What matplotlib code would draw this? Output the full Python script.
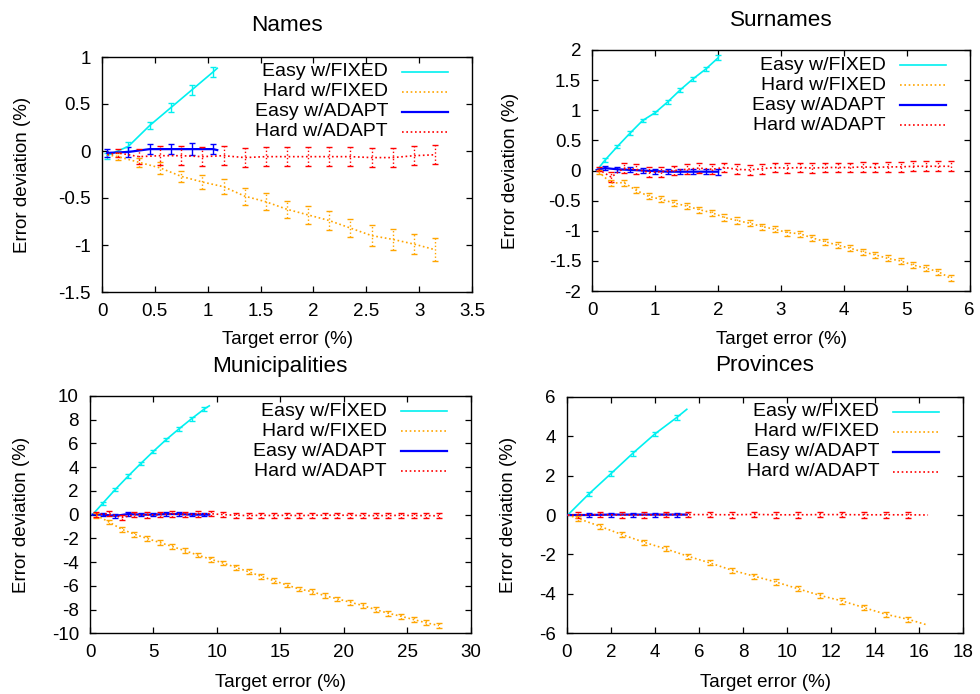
import numpy as np
import matplotlib
matplotlib.use("Agg")
import matplotlib.pyplot as plt
from matplotlib.ticker import FormatStrFormatter, MultipleLocator

plt.rcParams['font.family'] = ['Liberation Sans', 'DejaVu Sans']
plt.rcParams['font.size'] = 13.5

nan = np.nan

# ---- Names ----
names_easy_x = [0.05, 0.25, 0.45, 0.65, 0.85, 1.05, 1.09]
names_easy_fixed = [-0.05, 0.05, 0.27, 0.46, 0.65, 0.84, 0.88]
names_easy_fixed_err = [0.03, 0.05, 0.04, 0.05, 0.05, 0.05, nan]
names_easy_adapt = [-0.02, -0.01, 0.02, 0.02, 0.02, 0.02, 0.01]
names_easy_adapt_err = [0.04, 0.05, 0.05, 0.05, 0.06, 0.05, nan]
names_hard_x = [0.05, 0.15, 0.35, 0.55, 0.75, 0.95, 1.15, 1.35, 1.55, 1.75,
                1.95, 2.15, 2.35, 2.55, 2.75, 2.95, 3.15]
names_hard_fixed = [-0.04, -0.06, -0.12, -0.18, -0.27, -0.33, -0.38, -0.48, -0.54,
                    -0.62, -0.68, -0.74, -0.82, -0.90, -0.94, -0.99, -1.05]
names_hard_fixed_err = [nan, 0.04, 0.05, 0.06, 0.06, 0.07, 0.08, 0.09, 0.09, 0.09,
                        0.10, 0.10, 0.10, 0.11, 0.11, 0.11, 0.12]
names_hard_adapt = [-0.04, -0.02, -0.06, -0.05, -0.05, -0.06, -0.05, -0.07, -0.06,
                    -0.06, -0.06, -0.06, -0.06, -0.07, -0.07, -0.05, -0.04]
names_hard_adapt_err = [nan, 0.045, 0.08, 0.1, 0.1, 0.1, 0.1, 0.1, 0.1, 0.1,
                        0.1, 0.1, 0.1, 0.1, 0.1, 0.1, 0.1]

# ---- Surnames ----
sur_easy_x = [0.07, 0.2, 0.4, 0.6, 0.8, 1.0, 1.2, 1.4, 1.6, 1.8, 2.0]
sur_easy_fixed = [0.0, 0.17, 0.40, 0.62, 0.83, 0.96, 1.14, 1.34, 1.52, 1.68, 1.87]
sur_easy_fixed_err = [nan, 0.03, 0.03, 0.03, 0.03, 0.03, 0.03, 0.03, 0.03, 0.03, 0.04]
sur_easy_adapt = [0.01, 0.04, 0.02, 0.01, 0.0, -0.01, -0.02, -0.02, -0.02, -0.02, -0.02]
sur_easy_adapt_err = [nan, 0.03, 0.04, 0.04, 0.04, 0.04, 0.04, 0.04, 0.04, 0.04, 0.05]
sur_hard_x = [0.1, 0.3, 0.5, 0.7, 0.9, 1.1, 1.3, 1.5, 1.7, 1.9, 2.1, 2.3, 2.5, 2.7,
              2.9, 3.1, 3.3, 3.5, 3.7, 3.9, 4.1, 4.3, 4.5, 4.7, 4.9, 5.1, 5.3, 5.5, 5.7]
sur_hard_fixed = [-0.02, -0.21, -0.20, -0.33, -0.43, -0.48, -0.54, -0.59, -0.65, -0.70,
                  -0.78, -0.83, -0.875, -0.93, -0.975, -1.03, -1.05, -1.12, -1.18,
                  -1.24, -1.29, -1.35, -1.40, -1.46, -1.50, -1.57, -1.62, -1.68, -1.79]
sur_hard_fixed_err = [0.03] + [0.05] * 28
sur_hard_adapt = [0.02, -0.11, 0.04, 0.02, -0.03, -0.02, 0.0, 0.02, 0.04, 0.02,
                  0.05, 0.02, 0.01, 0.03, 0.05, 0.04, 0.05, 0.04, 0.05, 0.05,
                  0.05, 0.06, 0.05, 0.06, 0.06, 0.07, 0.07, 0.07, 0.07]
sur_hard_adapt_err = [0.03] + [0.08] * 28

# ---- Municipalities ----
mun_easy_x = [0.2, 1, 2, 3, 4, 5, 6, 7, 8, 9, 9.4]
mun_easy_fixed = [0.0, 0.95, 2.13, 3.24, 4.31, 5.34, 6.32, 7.22, 8.08, 8.90, 9.17]
mun_easy_fixed_err = [nan] + [0.15] * 9 + [nan]
mun_easy_adapt = [0.0, 0.0, -0.1, 0.05, 0.0, 0.0, 0.05, 0.05, 0.0, 0.0, 0.0]
mun_easy_adapt_err = [nan] + [0.15] * 9 + [nan]
mun_hard_x = [0.5, 1.5, 2.5, 3.5, 4.5, 5.5, 6.5, 7.5, 8.5, 9.5, 10.5, 11.5, 12.5, 13.5,
              14.5, 15.5, 16.5, 17.5, 18.5, 19.5, 20.5, 21.5, 22.5, 23.5, 24.5, 25.5,
              26.5, 27.5]
mun_hard_fixed = [-0.06, -0.62, -1.23, -1.65, -2.01, -2.35, -2.69, -3.05, -3.41, -3.75,
                  -4.08, -4.45, -4.81, -5.20, -5.57, -5.93, -6.27, -6.49, -6.83, -7.10,
                  -7.38, -7.66, -8.00, -8.31, -8.56, -8.84, -9.12, -9.34]
mun_hard_fixed_err = [0.2] * 28
mun_hard_adapt = [0.0, 0.08, -0.25, 0.0, -0.03, 0.0, 0.06, 0.0, 0.06, 0.08, 0.0, -0.05,
                  -0.08, -0.05, -0.08, -0.05, -0.08, -0.05, -0.05, -0.05, -0.05, -0.08,
                  -0.08, -0.08, -0.05, -0.08, -0.08, -0.1]
mun_hard_adapt_err = [0.22] * 28

# ---- Provinces ----
prov_easy_x = [0.05, 1, 2, 3, 4, 5, 5.45]
prov_easy_fixed = [0.0, 1.06, 2.09, 3.13, 4.11, 4.95, 5.36]
prov_easy_fixed_err = [nan, 0.12, 0.12, 0.12, 0.12, 0.12, nan]
prov_easy_adapt = [0.0, 0.0, 0.02, 0.02, 0.02, 0.02, 0.02]
prov_easy_adapt_err = [nan, 0.1, 0.1, 0.1, 0.1, 0.1, nan]
prov_hard_x = [0.05, 0.5, 1.5, 2.5, 3.5, 4.5, 5.5, 6.5, 7.5, 8.5, 9.5, 10.5, 11.5,
               12.5, 13.5, 14.5, 15.5, 16.4]
prov_hard_fixed = [0.0, -0.17, -0.57, -0.99, -1.38, -1.72, -2.09, -2.43, -2.80, -3.10,
                   -3.40, -3.74, -4.08, -4.36, -4.70, -5.04, -5.29, -5.59]
prov_hard_fixed_err = [nan] + [0.13] * 16 + [nan]
prov_hard_adapt = [0.0, 0.0, 0.02, 0.0, 0.0, 0.02, 0.02, 0.02, 0.01, 0.03, 0.01, 0.01,
                   0.02, 0.02, 0.01, 0.01, 0.01, 0.0]
prov_hard_adapt_err = [nan] + [0.14] * 16 + [nan]

labels = ['Easy w/FIXED', 'Hard w/FIXED', 'Easy w/ADAPT', 'Hard w/ADAPT']
colors = ['#00f0f0', '#ffa500', '#0000ff', '#ff0000']
dotted = (0, (1, 1.6))
styles = ['-', dotted, '-', dotted]
widths = [1.2, 1.2, 1.6, 1.2]

fig = plt.figure(figsize=(9.8, 6.94), dpi=100)
W, H = 980.0, 694.0


def px_axes(l, r, t, b):
    return fig.add_axes([l / W, (H - b) / H, (r - l) / W, (b - t) / H])


def draw_series(ax, x, y, err, k):
    eb = ax.errorbar(x, y, yerr=err, color=colors[k], lw=widths[k], ls=styles[k],
                     elinewidth=1.0, capsize=2.0, capthick=1.0, zorder=3 + k % 2)
    if styles[k] != '-':
        for c in eb[2]:
            c.set_linestyle(dotted)


def draw_legend(ax):
    pos = ax.get_position()
    wpx, hpx = pos.width * W, pos.height * H
    for i, lab in enumerate(labels):
        yf = 1 - (15 + 20 * i) / hpx
        ax.text(1 - 84 / wpx, yf, lab, transform=ax.transAxes, ha='right', va='center',
                fontsize=14)
        ax.plot([1 - 70 / wpx, 1 - 24 / wpx], [yf, yf], transform=ax.transAxes,
                color=colors[i], lw=widths[i], ls=styles[i], clip_on=False)


def style_axes(ax, title, xlim, xstep, ylim, ystep, title_y, ylab_x, xlab_y):
    ax.set_xlim(*xlim)
    ax.set_ylim(*ylim)
    ax.xaxis.set_major_locator(MultipleLocator(xstep))
    ax.yaxis.set_major_locator(MultipleLocator(ystep))
    ax.xaxis.set_major_formatter(FormatStrFormatter('%g'))
    ax.yaxis.set_major_formatter(FormatStrFormatter('%g'))
    ax.tick_params(direction='in', length=4, width=0.9, top=True, right=True, pad=8)
    for s in ax.spines.values():
        s.set_linewidth(1.0)
    ax.set_title(title, y=title_y, pad=0, va='center')
    ax.set_xlabel('Target error (%)')
    ax.set_ylabel('Error deviation (%)')
    ax.yaxis.set_label_coords(ylab_x, 0.5)
    ax.xaxis.set_label_coords(0.5, xlab_y)
    ax.yaxis.label.set_va('center')
    ax.xaxis.label.set_va('center')


# Names
ax = px_axes(102, 472, 57, 292)
draw_series(ax, names_easy_x, names_easy_fixed, names_easy_fixed_err, 0)
draw_series(ax, names_hard_x, names_hard_fixed, names_hard_fixed_err, 1)
draw_series(ax, names_easy_x, names_easy_adapt, names_easy_adapt_err, 2)
draw_series(ax, names_hard_x, names_hard_adapt, names_hard_adapt_err, 3)
style_axes(ax, 'Names', (0, 3.5), 0.5, (-1.5, 1), 0.5, 1.136, -0.216, -0.204)
draw_legend(ax)

# Surnames
ax = px_axes(592.3, 969.7, 50, 291)
draw_series(ax, sur_easy_x, sur_easy_fixed, sur_easy_fixed_err, 0)
draw_series(ax, sur_hard_x, sur_hard_fixed, sur_hard_fixed_err, 1)
draw_series(ax, sur_easy_x, sur_easy_adapt, sur_easy_adapt_err, 2)
draw_series(ax, sur_hard_x, sur_hard_adapt, sur_hard_adapt_err, 3)
style_axes(ax, 'Surnames', (0, 6), 1, (-2, 2), 0.5, 1.124, -0.218, -0.203)
draw_legend(ax)

# Municipalities
ax = px_axes(90, 470.7, 396, 633.3)
draw_series(ax, mun_easy_x, mun_easy_fixed, mun_easy_fixed_err, 0)
draw_series(ax, mun_hard_x, mun_hard_fixed, mun_hard_fixed_err, 1)
draw_series(ax, mun_easy_x, mun_easy_adapt, mun_easy_adapt_err, 2)
draw_series(ax, mun_hard_x, mun_hard_adapt, mun_hard_adapt_err, 3)
style_axes(ax, 'Municipalities', (0, 30), 5, (-10, 10), 2, 1.126, -0.179, -0.209)
draw_legend(ax)

# Provinces
ax = px_axes(566.7, 963.3, 396.7, 633.3)
draw_series(ax, prov_easy_x, prov_easy_fixed, prov_easy_fixed_err, 0)
draw_series(ax, prov_hard_x, prov_hard_fixed, prov_hard_fixed_err, 1)
draw_series(ax, prov_easy_x, prov_easy_adapt, prov_easy_adapt_err, 2)
draw_series(ax, prov_hard_x, prov_hard_adapt, prov_hard_adapt_err, 3)
style_axes(ax, 'Provinces', (0, 18), 2, (-6, 6), 2, 1.13, -0.147, -0.209)
draw_legend(ax)

fig.savefig('out.png', dpi=100)
